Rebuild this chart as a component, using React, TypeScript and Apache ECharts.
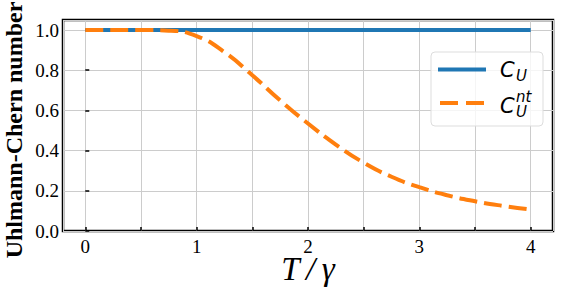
import React, { useEffect, useRef } from "react";
import * as echarts from "echarts";

const tValues = [0, 0.25, 0.5, 0.75, 1.0, 1.25, 1.5, 1.75, 2.0, 2.25, 2.5, 2.75, 3.0, 3.25, 3.5, 3.75, 4.0];
const cU = [1, 1, 1, 1, 1, 1, 1, 1, 1, 1, 1, 1, 1, 1, 1, 1, 1];
const cUnt = [1.0, 1.0, 1.0, 0.997, 0.97, 0.89, 0.775, 0.65, 0.535, 0.43, 0.34, 0.27, 0.218, 0.178, 0.148, 0.125, 0.107];
const xRange = [-0.2, 4.2];
const yRange = [0, 1.05];
const xLabelValues = [0, 1, 2, 3, 4];

const BLUE = "#1f77b4";
const ORANGE = "#ff7f0e";

export default function App() {
  const ref = useRef<HTMLDivElement>(null);
  useEffect(() => {
    if (!ref.current) return;
    const chart = echarts.init(ref.current, null, { renderer: "svg" });
    const serif = "Liberation Serif";
    const sans = "DejaVu Sans";
    chart.setOption({
      animation: false,
      backgroundColor: "#ffffff",
      textStyle: { fontFamily: serif },
      grid: {
        left: 63,
        right: 12,
        top: 20,
        bottom: 61,
        containLabel: false,
        outerBoundsMode: "none",
        show: true,
        borderColor: "#000",
        borderWidth: 2.5,
        backgroundColor: "transparent",
      },
      xAxis: {
        type: "value",
        min: xRange[0],
        max: xRange[1],
        splitNumber: 9,
        name: "T\u2009/\u2009γ",
        nameLocation: "middle",
        nameGap: 26,
        nameMoveOverlap: false,
        nameTextStyle: { fontFamily: serif, fontStyle: "italic", fontSize: 33, color: "#000", verticalAlign: "top", lineHeight: 24 },
        axisLine: { show: false },
        axisTick: {
          show: true,
          inside: true,
          length: 4,
          lineStyle: { color: "#000", width: 1.5 },
        },
        axisLabel: {
          showMinLabel: false,
          showMaxLabel: false,
          margin: 6,
          fontFamily: serif,
          fontSize: 19,
          color: "#000",
          formatter: (v: number) => (xLabelValues.indexOf(v) >= 0 ? String(v) : ""),
        },
        splitLine: { show: true, lineStyle: { color: "#cccccc", width: 1 } },
      },
      yAxis: {
        type: "value",
        min: yRange[0],
        max: yRange[1],
        interval: 0.2,
        axisLine: { show: false },
        axisTick: {
          show: true,
          inside: true,
          length: 4,
          lineStyle: { color: "#000", width: 1.5 },
        },
        axisLabel: {
          showMaxLabel: false,
          margin: 4,
          fontFamily: serif,
          fontSize: 19,
          color: "#000",
          formatter: (v: number) => v.toFixed(1),
        },
        splitLine: { show: true, lineStyle: { color: "#cccccc", width: 1 } },
      },
      series: [
        {
          name: "C_U",
          type: "line",
          data: tValues.map((t, i) => [t, cU[i]]),
          showSymbol: false,
          lineStyle: { color: BLUE, width: 4 },
          z: 3,
        },
        {
          name: "C_U^nt",
          type: "line",
          data: tValues.map((t, i) => [t, cUnt[i]]),
          showSymbol: false,
          smooth: 0.5,
          lineStyle: { color: ORANGE, width: 4, type: [18, 7] },
          z: 4,
        },
      ],
      graphic: [
        {
          type: "text",
          x: 14,
          y: 130,
          rotation: Math.PI / 2,
          style: {
            text: "Uhlmann-Chern number",
            fontFamily: serif,
            fontWeight: "bold",
            fontSize: 24,
            fill: "#000",
            align: "center",
            verticalAlign: "middle",
          },
        },
        {
          type: "rect",
          shape: { x: 431, y: 52, width: 112, height: 74, r: 4 },
          style: { fill: "rgba(255,255,255,0.8)", stroke: "#dddddd", lineWidth: 1 },
          z: 10,
        },
        {
          type: "line",
          shape: { x1: 438, y1: 69.5, x2: 486, y2: 69.5 },
          style: { stroke: BLUE, lineWidth: 4 },
          z: 11,
        },
        {
          type: "line",
          shape: { x1: 440, y1: 103, x2: 485, y2: 103 },
          style: { stroke: ORANGE, lineWidth: 4, lineDash: [18, 8] },
          z: 11,
        },
        {
          type: "text",
          x: 500,
          y: 70,
          style: { text: "C", fontFamily: sans, fontStyle: "italic", fontSize: 21, fill: "#000", verticalAlign: "middle" },
          z: 11,
        },
        {
          type: "text",
          x: 516,
          y: 76,
          style: { text: "U", fontFamily: sans, fontStyle: "italic", fontSize: 15, lineHeight: 12, fill: "#000", verticalAlign: "middle" },
          z: 11,
        },
        {
          type: "text",
          x: 500,
          y: 106,
          style: { text: "C", fontFamily: sans, fontStyle: "italic", fontSize: 21, fill: "#000", verticalAlign: "middle" },
          z: 11,
        },
        {
          type: "text",
          x: 516,
          y: 112,
          style: { text: "U", fontFamily: sans, fontStyle: "italic", fontSize: 15, lineHeight: 11, fill: "#000", verticalAlign: "middle" },
          z: 11,
        },
        {
          type: "text",
          x: 516,
          y: 97,
          style: { text: "nt", fontFamily: sans, fontStyle: "italic", fontSize: 15, lineHeight: 11, fill: "#000", verticalAlign: "middle" },
          z: 11,
        },
      ],
    });
    return () => chart.dispose();
  }, []);
  return <div ref={ref} style={{ width: 565, height: 292, position: "absolute", left: 0, top: 0 }} />;
}
